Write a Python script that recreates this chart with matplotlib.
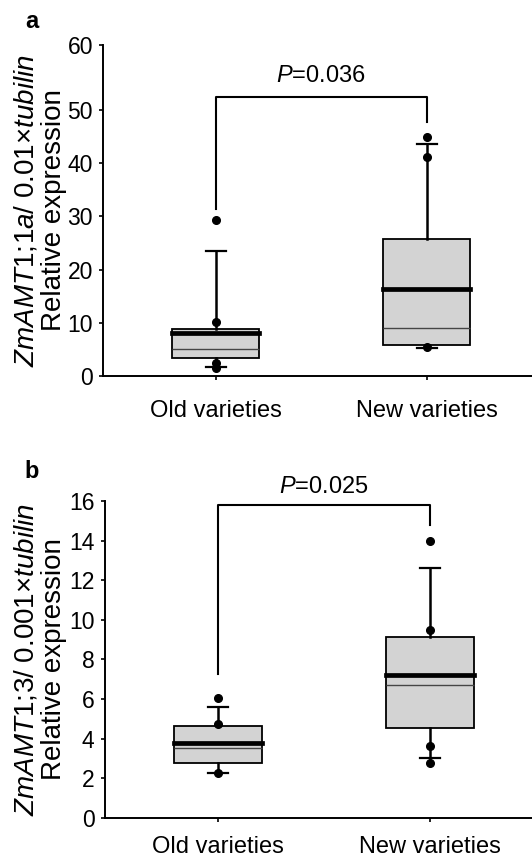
import numpy as np
import matplotlib
matplotlib.use("Agg")
import matplotlib.pyplot as plt

plt.rcParams['font.family'] = ['Liberation Sans', 'DejaVu Sans']
plt.rcParams['mathtext.fontset'] = 'custom'
plt.rcParams['mathtext.rm'] = 'Liberation Sans'
plt.rcParams['mathtext.it'] = 'Liberation Sans:italic'
plt.rcParams['mathtext.bf'] = 'Liberation Sans:bold'

categories = ["Old varieties", "New varieties"]

# ---- Panel a data ----
a_q1 = [3.33, 5.83]
a_q3 = [8.83, 25.75]
a_median = [5.0, 8.97]
a_mean = [8.14, 16.4]
a_whislo = [1.75, 5.3]
a_whishi = [23.5, 43.6]
a_points = [[29.3, 10.1, 2.5, 1.56], [44.9, 41.2, 5.4]]
a_bracket = [31.4, 52.0, 47.8]   # left end, bar level, right end
a_ptext_y = 54.35
a_pvalue = "0.036"
a_yticks = [0, 10, 20, 30, 40, 50, 60]
a_ylabel = r"$\mathit{ZmAMT1;\!1a/}$ 0.01×$\mathit{tubilin}$" + "\nRelative expression"

# ---- Panel b data ----
b_q1 = [2.79, 4.53]
b_q3 = [4.65, 9.15]
b_median = [3.55, 6.72]
b_mean = [3.80, 7.19]
b_whislo = [2.25, 3.03]
b_whishi = [5.62, 12.64]
b_points = [[6.06, 4.73, 2.25], [13.99, 9.50, 3.63, 2.79]]
b_bracket = [7.26, 15.78, 14.78]
b_ptext_y = 16.42
b_pvalue = "0.025"
b_yticks = [0, 2, 4, 6, 8, 10, 12, 14, 16]
b_ylabel = r"$\mathit{ZmAMT1;\!3/}$ 0.001×$\mathit{tubilin}$" + "\nRelative expression"

FS = 16.5
FS_X = 17
FS_LAB = 20
BOXFILL = '#d3d3d3'

# the reference's y axis in panel a is stretched between 50 and 60
K = 6.5 / 5.32
def fwd(v):
    v = np.asarray(v, float)
    return np.where(v <= 50, v, 50 + (v - 50) * K)
def inv(u):
    u = np.asarray(u, float)
    return np.where(u <= 50, u, 50 + (u - 50) / K)

fig = plt.figure(figsize=(5.32, 8.59), dpi=100)

def panel(rect, q1, q3, med, mean, wlo, whi, pts, bracket, pty, pval,
          yticks, ylim, xlim, width, capw, xpad, ylabel, ylab_xy, letter, letter_xy,
          custom=False):
    ax = fig.add_axes(rect)
    if custom:
        ax.set_yscale('function', functions=(fwd, inv))
    stats = []
    for i in range(2):
        stats.append(dict(med=med[i], q1=q1[i], q3=q3[i], whislo=wlo[i],
                          whishi=whi[i], mean=mean[i],
                          fliers=np.array(pts[i]), label=categories[i]))
    ax.bxp(stats, positions=[1, 2], widths=width, capwidths=capw,
           showmeans=True, meanline=True, patch_artist=True, manage_ticks=False,
           boxprops=dict(facecolor=BOXFILL, edgecolor='black', linewidth=1.3),
           medianprops=dict(color='#454545', linewidth=1.0),
           meanprops=dict(color='black', linestyle='-', linewidth=3.4,
                          solid_capstyle='projecting'),
           whiskerprops=dict(color='black', linewidth=1.8),
           capprops=dict(color='black', linewidth=1.6),
           flierprops=dict(marker='o', markerfacecolor='black',
                           markeredgecolor='black', markersize=5.5,
                           linestyle='none', zorder=4))
    ax.plot([1, 1, 2, 2], [bracket[0], bracket[1], bracket[1], bracket[2]],
            color='black', lw=1.5, clip_on=False)
    ax.text(1.5, pty, r"$\mathit{P}$=" + pval, ha='center', va='baseline',
            fontsize=FS_X)
    ax.set_ylim(*ylim)
    ax.set_xlim(*xlim)
    ax.set_yticks(yticks)
    ax.set_yticklabels([str(t) for t in yticks], fontsize=FS)
    ax.set_xticks([1, 2])
    ax.set_xticklabels(categories, fontsize=FS_X)
    ax.minorticks_off()
    for s in ['top', 'right']:
        ax.spines[s].set_visible(False)
    for s in ['left', 'bottom']:
        ax.spines[s].set_linewidth(1.4)
    ax.tick_params(axis='y', length=3, width=1.2, pad=4.5)
    ax.tick_params(axis='x', length=3, width=1.2, pad=xpad)
    fig.text(ylab_xy[0] / 532, 1 - ylab_xy[1] / 859, ylabel, rotation=90,
             ha='center', va='center', multialignment='center', fontsize=FS_LAB,
             linespacing=1.06)
    fig.text(letter_xy[0] / 532, 1 - letter_xy[1] / 859, letter,
             fontweight='bold', fontsize=17, ha='center', va='center')
    return ax

panel([103.3 / 532, (859 - 376) / 859, (532 - 103.3) / 532, 331 / 859],
      a_q1, a_q3, a_median, a_mean, a_whislo, a_whishi, a_points,
      a_bracket, a_ptext_y, a_pvalue, a_yticks, (0, 60), (0.467, 2.499),
      0.41, 0.095, 14.5, a_ylabel, (40, 210.5), 'a', (32, 21), custom=True)

panel([105 / 532, (859 - 817.8) / 859, (532 - 105) / 532, 316.8 / 859],
      b_q1, b_q3, b_median, b_mean, b_whislo, b_whishi, b_points,
      b_bracket, b_ptext_y, b_pvalue, b_yticks, (0, 16), (0.465, 2.48),
      0.416, 0.094, 9.8, b_ylabel, (40, 659.5), 'b', (32, 471))

fig.savefig("out.png", dpi=100)
